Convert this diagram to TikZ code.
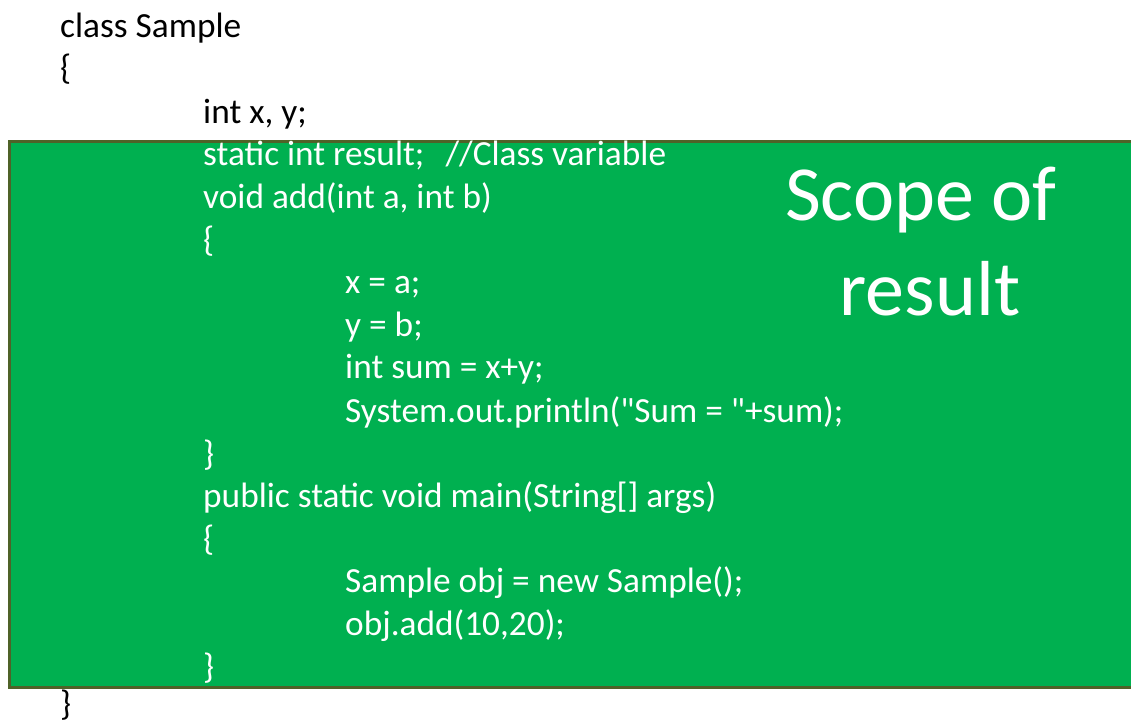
\documentclass[tikz,border=0pt]{standalone}
\usepackage{fontspec}
\setmainfont{Carlito}
\definecolor{scopegreen}{HTML}{00B050}
\definecolor{scopeedge}{HTML}{4F6228}
% straight double quote, bypassing the TeX quote mapping
\newcommand{\dq}{\XeTeXglyph\XeTeXcharglyph34\relax}
\begin{document}
\begin{tikzpicture}[x=1pt,y=-1pt,
  code/.style={anchor=base west,inner sep=0pt,font=\fontsize{35.3}{42}\selectfont},
  outer/.style={code,text=black},
  inner/.style={code,text=white},
  scopelabel/.style={anchor=base,inner sep=0pt,text=white,font=\fontsize{78}{95}\selectfont}]
\useasboundingbox (0,0) rectangle (1131,726);
\fill[white] (0,0) rectangle (1131,726);
% region in which the class variable is visible
\draw[fill=scopegreen,draw=scopeedge,line width=3pt] (9,141) rectangle (1140,687);
\def\lh{42.6}
\node[outer] (l0) at (60,37) {class Sample};
\node[outer] (l1) at (60,37+1*\lh) {\{};
\node[outer] (l2) at (203,38+2*\lh) {int x, y;};
\node[inner] (l3) at (203,38+3*\lh) {static int result;\hspace{0.6em}//Class variable};
\node[inner] (l4) at (203,38+4*\lh) {void add(int a, int b)};
\node[inner] (l5) at (203,38+5*\lh) {\{};
\node[inner] (l6) at (345,38+6*\lh) {x = a;};
\node[inner] (l7) at (345,38+7*\lh) {y = b;};
\node[inner] (l8) at (345,38+8*\lh) {int sum = x+y;};
\node[inner] (l9) at (345,39+9*\lh) {System.out.println(\dq Sum = \dq+sum);};
\node[inner] (l10) at (203,39+10*\lh) {\}};
\node[inner] (l11) at (203,39+11*\lh) {public static void main(String[] args)};
\node[inner] (l12) at (203,39+12*\lh) {\{};
\node[inner] (l13) at (345,39+13*\lh) {Sample obj = new Sample();};
\node[inner] (l14) at (345,39+14*\lh) {obj.add(10,20);};
\node[inner] (l15) at (203,39+15*\lh) {\}};
\node[outer] (l16) at (60,715) {\}};
% caption inside the green region
\node[scopelabel] (s1) at (921,220) {Scope of};
\node[scopelabel] (s2) at (930,315) {result};
\end{tikzpicture}
\end{document}
